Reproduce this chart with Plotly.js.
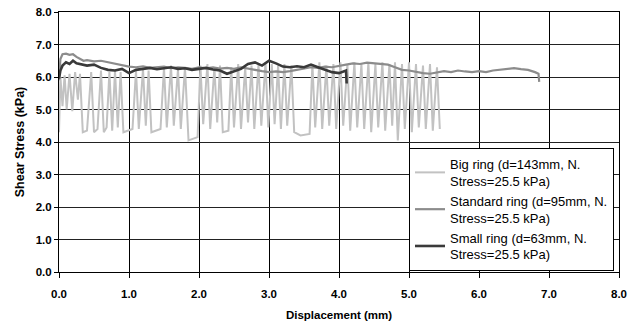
<!DOCTYPE html>
<html>
<head>
<meta charset="utf-8">
<script src="https://cdn.plot.ly/plotly-3.0.1.min.js"></script>
<style>
  html, body { margin: 0; padding: 0; background: #ffffff; }
  #chart { width: 635px; height: 327px; }
</style>
</head>
<body>
<div id="chart"></div>
<script>
// Shear stress vs displacement for three ring sizes (normal stress 25.5 kPa)

const seriesNames = [
  'Big ring (d=143mm, N.<br>Stress=25.5 kPa)',
  'Standard ring (d=95mm, N.<br>Stress=25.5 kPa)',
  'Small ring (d=63mm, N.<br>Stress=25.5 kPa)'
];

const xTicks = [0, 1, 2, 3, 4, 5, 6, 7, 8];
const yTicks = [0, 1, 2, 3, 4, 5, 6, 7, 8];

// Big ring: stick-slip record
const bigX = [
  0.00,0.02,0.05,0.08,0.11,0.15,0.19,0.23,0.27,0.30,
  0.34,0.40,0.46,0.50,0.55,0.60,0.64,0.68,0.72,0.76,
  0.80,0.84,0.88,0.92,1.05,1.10,1.14,1.20,1.24,1.28,
  1.32,1.45,1.50,1.54,1.60,1.64,1.70,1.74,1.80,1.85,
  1.98,2.02,2.06,2.12,2.16,2.22,2.26,2.30,2.34,2.42,
  2.46,2.50,2.56,2.60,2.66,2.70,2.75,2.79,2.85,2.89,
  2.95,2.99,3.04,3.08,3.13,3.17,3.22,3.26,3.32,3.36,
  3.45,3.58,3.62,3.66,3.72,3.76,3.82,3.86,3.92,3.96,
  4.02,4.06,4.12,4.16,4.22,4.26,4.32,4.36,4.42,4.46,
  4.52,4.56,4.62,4.66,4.72,4.76,4.80,4.84,4.90,4.94,
  5.00,5.04,5.10,5.14,5.20,5.24,5.30,5.34,5.40,5.44
];
const bigY = [
  4.30,6.00,5.10,6.05,5.00,6.10,4.95,6.15,5.30,6.10,
  4.30,4.35,6.15,4.30,4.40,6.20,4.30,4.45,6.15,4.35,
  6.20,4.45,6.15,4.30,4.40,6.20,4.40,6.25,4.50,6.20,
  4.30,4.40,6.30,4.45,6.35,4.50,6.25,4.40,6.30,4.05,
  4.15,6.35,4.55,6.40,4.40,6.30,4.60,6.35,4.30,4.35,
  6.30,4.45,6.40,4.40,6.30,4.60,6.35,4.40,6.40,4.50,
  6.45,4.45,6.40,4.55,6.35,4.40,6.40,4.50,6.35,4.30,
  4.20,4.25,6.40,4.45,6.45,4.40,6.35,4.50,6.40,4.40,
  6.45,4.50,6.40,4.35,6.45,4.45,6.40,4.40,6.45,4.30,
  6.40,4.45,6.45,4.35,6.40,4.50,6.45,4.05,6.40,4.40,
  6.45,4.30,6.40,4.45,6.35,4.40,6.40,4.35,6.30,4.40
];

// Standard ring
const stdX = [
  0.00,0.02,0.05,0.10,0.15,0.20,0.25,0.30,0.35,0.40,
  0.50,0.60,0.70,0.80,0.90,1.00,1.10,1.20,1.30,1.40,
  1.50,1.60,1.70,1.80,1.90,2.00,2.10,2.20,2.30,2.40,
  2.50,2.60,2.70,2.80,2.90,3.00,3.10,3.20,3.30,3.40,
  3.50,3.60,3.70,3.80,3.90,4.00,4.10,4.20,4.30,4.40,
  4.50,4.60,4.70,4.80,4.90,5.00,5.10,5.20,5.30,5.40,
  5.50,5.60,5.70,5.80,5.90,6.00,6.10,6.20,6.30,6.40,
  6.50,6.60,6.70,6.80,6.85,6.86
];
const stdY = [
  5.90,6.55,6.70,6.72,6.68,6.70,6.62,6.55,6.50,6.52,
  6.48,6.50,6.45,6.40,6.35,6.32,6.30,6.33,6.28,6.30,
  6.32,6.27,6.30,6.28,6.25,6.30,6.27,6.30,6.26,6.28,
  6.25,6.30,6.27,6.22,6.18,6.15,6.17,6.15,6.18,6.22,
  6.25,6.30,6.28,6.32,6.30,6.35,6.38,6.42,6.40,6.44,
  6.42,6.40,6.38,6.30,6.22,6.20,6.15,6.12,6.10,6.14,
  6.18,6.15,6.20,6.17,6.15,6.18,6.15,6.20,6.22,6.25,
  6.27,6.24,6.22,6.15,6.10,5.85
];

// Small ring
const smallX = [
  0.00,0.02,0.05,0.10,0.15,0.20,0.25,0.30,
  0.40,0.50,0.60,0.70,0.80,0.90,1.00,
  1.10,1.20,1.30,1.40,1.50,1.60,1.70,1.80,1.90,2.00,
  2.10,2.20,2.30,2.40,2.50,2.60,2.70,2.80,2.90,3.00,
  3.10,3.20,3.30,3.40,3.50,3.60,3.70,3.80,3.90,4.00,
  4.05,4.10,4.11
];
const smallY = [
  5.95,6.20,6.35,6.45,6.40,6.50,6.42,6.40,
  6.35,6.38,6.28,6.22,6.20,6.25,6.12,
  6.22,6.25,6.28,6.24,6.27,6.30,6.25,6.27,6.22,6.25,
  6.28,6.23,6.20,6.10,6.18,6.25,6.40,6.45,6.35,6.50,
  6.42,6.32,6.30,6.33,6.30,6.38,6.30,6.22,6.15,6.12,
  6.15,6.20,5.80
];

const colors = ['#c2c2c2', '#8c8c8c', '#3a3a3a'];
const widths = [2, 2.2, 2.6];

const traces = [
  { x: bigX, y: bigY },
  { x: stdX, y: stdY },
  { x: smallX, y: smallY }
].map((s, i) => ({
  type: 'scatter',
  mode: 'lines',
  x: s.x,
  y: s.y,
  name: seriesNames[i],
  line: { color: colors[i], width: widths[i] }
}));

const FONT = 'Liberation Sans, Arial, sans-serif';
const tickFont = { family: FONT, size: 11.5, color: '#000', weight: 'bold' };

const layout = {
  width: 635,
  height: 327,
  margin: { l: 59, r: 16, t: 12, b: 55 },
  paper_bgcolor: '#ffffff',
  plot_bgcolor: '#ffffff',
  showlegend: true,
  xaxis: {
    range: [0, 8],
    tickvals: xTicks,
    tickformat: '.1f',
    ticks: 'outside',
    ticklen: 5,
    tickcolor: '#000',
    ticklabelstandoff: 6,
    showline: true,
    mirror: true,
    linecolor: '#000',
    linewidth: 1,
    showgrid: true,
    gridcolor: '#000',
    gridwidth: 1,
    zeroline: false,
    tickfont: tickFont,
    title: {
      text: 'Displacement (mm)',
      font: { family: FONT, size: 11.5, color: '#000', weight: 'bold' },
      standoff: 12
    }
  },
  yaxis: {
    range: [0, 8],
    tickvals: yTicks,
    tickformat: '.1f',
    ticks: 'outside',
    ticklen: 4,
    tickcolor: '#000',
    showline: true,
    mirror: true,
    linecolor: '#000',
    linewidth: 1,
    showgrid: true,
    gridcolor: '#222',
    gridwidth: 1,
    zeroline: false,
    tickfont: tickFont,
    title: {
      text: 'Shear Stress (kPa)',
      font: { family: FONT, size: 12.5, color: '#000', weight: 'bold' },
      standoff: 8
    }
  },
  legend: {
    x: 0.625,
    y: 0.477,
    xanchor: 'left',
    yanchor: 'top',
    bgcolor: '#ffffff',
    bordercolor: '#000',
    borderwidth: 1,
    itemwidth: 30,
    tracegroupgap: 0,
    font: { family: FONT, size: 13, color: '#000' }
  }
};

Plotly.newPlot('chart', traces, layout, { displayModeBar: false, staticPlot: true });
</script>
</body>
</html>
